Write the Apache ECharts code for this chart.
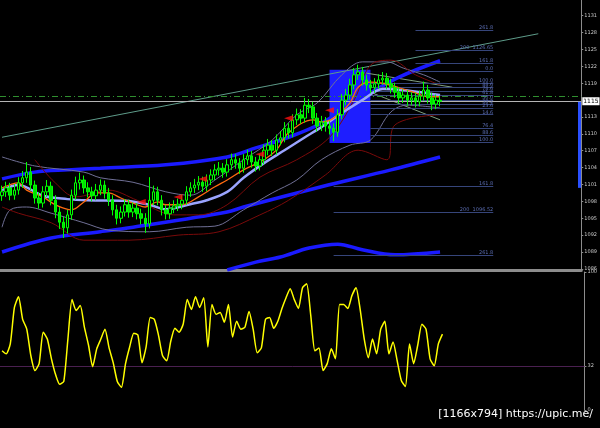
<!DOCTYPE html>
<html><head><meta charset="utf-8">
<script src="https://cdn.jsdelivr.net/npm/echarts@6/dist/echarts.min.js"></script>
<style>html,body{margin:0;padding:0;background:#000;}#c{width:600px;height:428px;}</style>
</head><body><div id="c"></div>
<script>
// ---- candles: [open, close, low, high]
const ohlc = [
[1099.0,1099.7,1098.1,1100.8],[1099.7,1100.4,1098.8,1101.5],[1100.4,1099.1,1098.2,1101.3],[1099.1,1100.0,1098.3,1101.1],
[1100.0,1101.3,1099.2,1102.3],[1101.3,1102.2,1100.4,1103.4],[1102.2,1103.2,1101.3,1105.0],[1103.2,1100.9,1100.0,1104.1],
[1100.9,1098.6,1097.6,1101.7],[1098.6,1097.7,1096.7,1099.6],[1097.7,1099.7,1096.9,1100.7],[1099.7,1100.7,1098.8,1101.8],
[1100.7,1098.2,1097.3,1101.5],[1098.2,1096.1,1095.0,1099.1],[1096.1,1094.3,1093.1,1097.0],[1094.3,1093.3,1091.5,1095.3],
[1093.3,1095.6,1092.3,1096.5],[1095.6,1099.1,1094.7,1100.1],[1099.1,1101.3,1098.3,1102.4],[1101.3,1101.8,1100.1,1103.1],
[1101.8,1100.4,1099.4,1102.6],[1100.4,1099.7,1098.7,1101.4],[1099.7,1099.0,1098.0,1100.6],[1099.0,1100.0,1098.2,1101.1],
[1100.0,1100.9,1099.1,1101.9],[1100.9,1099.5,1098.5,1101.7],[1099.5,1098.2,1097.2,1100.4],[1098.2,1096.5,1095.5,1099.1],
[1096.5,1095.0,1093.9,1097.4],[1095.0,1096.1,1094.1,1097.1],[1096.1,1097.4,1095.3,1098.4],[1097.4,1096.1,1095.1,1098.3],
[1096.1,1096.8,1095.2,1097.8],[1096.8,1095.8,1094.8,1097.7],[1095.8,1095.0,1093.9,1096.7],[1095.0,1094.0,1092.4,1095.9],
[1094.0,1098.2,1093.2,1102.3],[1098.2,1099.7,1097.3,1100.8],[1099.7,1098.2,1097.3,1100.6],[1098.2,1096.5,1095.5,1099.1],
[1096.5,1095.8,1094.8,1097.4],[1095.8,1096.8,1094.9,1097.8],[1096.8,1097.2,1095.9,1098.2],[1097.2,1097.5,1096.3,1098.5],
[1097.5,1098.2,1096.6,1099.2],[1098.2,1099.7,1097.4,1100.7],[1099.7,1100.4,1098.8,1101.4],[1100.4,1100.9,1099.5,1102.0],
[1100.9,1101.4,1100.0,1102.5],[1101.4,1100.7,1099.7,1102.4],[1100.7,1101.8,1099.8,1102.8],[1101.8,1102.7,1100.9,1103.7],
[1102.7,1103.6,1101.8,1104.6],[1103.6,1103.9,1102.6,1105.0],[1103.9,1103.2,1102.2,1104.8],[1103.2,1104.5,1102.4,1105.5],
[1104.5,1105.4,1103.6,1106.5],[1105.4,1104.8,1103.8,1106.4],[1104.8,1103.9,1102.9,1105.7],[1103.9,1105.4,1103.1,1106.4],
[1105.4,1106.1,1104.5,1107.2],[1106.1,1105.0,1104.0,1107.0],[1105.0,1104.3,1103.3,1105.9],[1104.3,1105.4,1103.5,1106.4],
[1105.4,1107.1,1104.6,1108.1],[1107.1,1108.0,1106.2,1109.1],[1108.0,1107.1,1106.1,1108.9],[1107.1,1108.9,1106.3,1109.9],
[1108.9,1109.3,1108.0,1110.5],[1109.3,1111.0,1108.5,1112.1],[1111.0,1110.2,1109.2,1111.9],[1110.2,1112.5,1109.4,1113.5],
[1112.5,1113.4,1111.6,1114.5],[1113.4,1112.8,1111.8,1114.4],[1112.8,1115.1,1112.0,1116.4],[1115.1,1114.8,1113.7,1116.2],
[1114.8,1112.8,1111.8,1115.7],[1112.8,1111.4,1110.4,1113.7],[1111.4,1112.1,1110.5,1113.2],[1112.1,1111.4,1110.4,1113.0],
[1111.4,1111.0,1109.9,1112.3],[1111.0,1110.3,1108.7,1111.9],[1110.3,1113.4,1109.5,1114.4],[1113.4,1116.0,1112.6,1117.1],
[1116.0,1116.9,1115.1,1118.0],[1116.9,1118.7,1116.1,1119.8],[1118.7,1120.5,1117.9,1121.7],[1120.5,1121.0,1119.6,1122.3],
[1121.0,1119.6,1118.6,1121.9],[1119.6,1118.7,1117.7,1120.5],[1118.7,1118.2,1117.2,1119.6],[1118.2,1118.9,1117.3,1119.9],
[1118.9,1119.6,1118.0,1120.6],[1119.6,1119.9,1118.7,1121.0],[1119.9,1118.9,1117.9,1120.8],[1118.9,1118.2,1117.2,1119.8],
[1118.2,1117.4,1116.4,1119.1],[1117.4,1116.4,1115.4,1118.3],[1116.4,1116.9,1115.5,1117.9],[1116.9,1116.0,1115.0,1117.8],
[1116.0,1116.4,1115.1,1117.4],[1116.4,1115.7,1114.7,1117.3],[1115.7,1116.7,1114.9,1117.7],[1116.7,1117.8,1115.9,1119.3],
[1117.8,1116.4,1115.4,1118.7],[1116.4,1115.3,1114.2,1117.3],[1115.3,1116.0,1114.4,1117.0],[1116.0,1115.8,1114.9,1116.8]
];
// ---- oscillator (sub window)
const osc = [42.9,40.7,47.9,74.3,82.1,65.7,58.6,39.3,28.6,33.6,
56.4,51.4,37.1,25.7,18.6,20.7,51.4,80.0,72.1,75.7,
60.0,47.1,31.4,44.3,51.4,58.6,45.0,34.3,20.7,16.4,
33.6,45.7,55.7,54.3,34.3,45.7,67.1,65.7,54.3,39.3,
35.7,50.0,59.3,56.4,62.1,80.0,72.9,82.1,74.3,81.4,
45.7,76.4,69.3,70.7,63.6,76.4,52.9,64.3,58.6,60.0,
71.4,58.6,41.4,45.0,65.7,67.1,59.3,64.3,73.6,81.4,
87.9,80.0,73.6,88.6,91.4,68.6,42.9,45.0,28.6,33.6,
44.3,37.1,76.4,76.4,73.6,82.9,88.6,72.9,51.4,37.9,
51.4,40.7,58.6,64.3,40.7,49.3,35.7,21.4,17.1,47.9,
33.6,47.1,62.1,58.6,37.1,32.1,47.9,55.0];
const oscLevel = 32;
// ---- indicator lines [barIndex, price]
const maSlow = [[0,1100.0],[4,1100.9],[10,1099.0],[16,1098.4],[21,1098.2],[30,1098.1],[36,1097.4],[40,1096.6],[46,1097.5],[50,1098.2],[55,1099.7],[59,1102.2],[64,1104.8],[69,1107.1],[74,1109.4],[78,1111.2],[83,1113.7],[88,1116.0],[93,1118.0],[98,1117.8],[103,1117.3],[107,1116.9]];
const maFast = [[0,1100.4],[4,1101.3],[6,1100.0],[10,1098.8],[13,1097.4],[17,1096.5],[20,1097.9],[23,1099.5],[26,1099.5],[29,1098.6],[32,1097.7],[35,1097.0],[38,1097.9],[40,1097.4],[44,1097.4],[48,1098.8],[52,1100.6],[55,1101.8],[59,1103.6],[64,1105.4],[67,1107.1],[70,1110.2],[76,1112.5],[78,1112.1],[81,1112.8],[85,1115.5],[87,1118.3],[90,1119.2],[93,1119.0],[97,1118.2],[101,1117.3],[104,1116.6],[107,1116.6]];
const bandUpper = [[0,1102.0],[8,1103.2],[16,1103.6],[24,1103.9],[40,1104.5],[55,1105.9],[62,1107.5],[70,1109.4],[78,1111.9],[90,1117.3],[97,1120.1],[107,1123.0]];
const bandLower = [[0,1089.0],[12,1091.5],[24,1092.6],[32,1093.4],[55,1096.1],[59,1097.0],[78,1100.6],[95,1103.6],[107,1105.9]];
const bandLowest = [[55,1085.8],[62,1087.2],[68,1088.1],[75,1089.7],[82,1090.4],[88,1089.4],[96,1088.5],[107,1089.0]];
const bbUpper = [[0,1105.9],[8,1104.3],[20,1103.2],[24,1102.2],[32,1101.4],[40,1099.7],[46,1099.1],[52,1101.8],[59,1105.4],[66,1108.9],[72,1113.4],[77,1115.5],[83,1120.5],[88,1122.8],[94,1122.8],[98,1121.7],[103,1120.5],[107,1119.2]];
const bbLower = [[0,1093.4],[2,1096.5],[6,1097.0],[12,1095.9],[20,1094.2],[26,1092.9],[36,1092.6],[45,1093.4],[52,1093.6],[59,1096.5],[66,1099.5],[72,1101.8],[78,1105.4],[85,1108.0],[90,1108.9],[95,1113.9],[99,1115.1],[107,1114.6]];
const redA = [[8,1105.4],[13,1101.3],[18,1098.8],[26,1100.0],[33,1098.2],[42,1095.6],[48,1095.6],[55,1097.4],[63,1102.3],[72,1105.4],[80,1109.4],[86,1116.0],[90,1122.2],[95,1123.1],[101,1120.5],[107,1118.7]];
const redB = [[0,1097.0],[4,1095.9],[12,1094.2],[20,1091.1],[31,1091.1],[43,1092.0],[53,1092.6],[63,1095.6],[70,1098.2],[79,1102.7],[87,1107.1],[94,1105.4],[96,1111.6],[107,1113.4]];
const trendLine = [[0,1109.4],[131,1127.8]];
const channelUp = [[89,1120.8],[110,1118.3]];
const channelDn = [[90,1117.4],[107,1112.5]];
const arrows = [[34,1097.9],[43,1098.8],[49,1102.0],[63,1106.4],[70,1112.8],[80,1114.2]];
// ---- fibonacci levels
const fibPrices = [1128.5,1124.9,1122.6,1121.2,1119.0,1118.3,1117.6,1116.9,1116.0,1115.3,1114.6,1113.4,1111.0,1109.8,1108.6,1100.7,1096.1,1088.5];
const fibLabels = ['261.8','200  1126.65','161.8','0.0','100.0','88.6','78.6','61.8','50.0','38.2','23.6','14.6','76.4','88.6','100.0','161.8','200  1096.52','261.8'];
const fibStart = [101,101,101,101,90,90,90,90,90,90,90,90,90,90,90,81,81,81];
const fibEnd = 120;
const boxRange = {x0:80, x1:90, top:1121.4, bottom:1108.4};
const bidPrice = 1115.8, askPrice = 1116.7;
const sideBar = {x:141, top:1115.7, bottom:1100.4};
const priceTicks = [1131,1128,1125,1122,1119,1113,1110,1107,1104,1101,1098,1095,1092,1089,1086];
const oscTicks = [100,32,0];

const NCAT = 142;
const cats = [];
for (let i = 0; i < NCAT; i++) cats.push(String(i));

const chart = echarts.init(document.getElementById('c'), null, {renderer:'canvas'});
function ln(data, color, width, z, smooth){
  return {type:'line', data:data, xAxisIndex:0, yAxisIndex:0, symbol:'none', showSymbol:false,
    smooth: smooth===undefined?0.35:smooth, lineStyle:{color:color, width:width}, z:z, silent:true, connectNulls:true};
}
const fibLines = fibPrices.map((p,k)=>[
  {coord:[fibStart[k], p], label:{formatter: fibLabels[k]}},
  {coord:[fibEnd, p]}
]);
const option = {
  backgroundColor:'#000',
  animation:false,
  title:{text:'[1166x794] https://upic.me/', right:2, bottom:3,
    textStyle:{color:'#ffffff', fontSize:11, fontWeight:'normal', fontFamily:'DejaVu Sans'}},
  grid:[{left:0, right:14, top:0, height:270},{left:0, right:14, top:272, height:138}],
  xAxis:[
    {type:'category', data:cats, gridIndex:0, boundaryGap:true,
      axisLine:{show:true, lineStyle:{color:'#8c8c8c', width:3}}, axisTick:{show:false}, axisLabel:{show:false}, splitLine:{show:false}},
    {type:'category', data:cats, gridIndex:1, boundaryGap:true,
      axisLine:{show:false}, axisTick:{show:false}, axisLabel:{show:false}, splitLine:{show:false}}
  ],
  yAxis:[
    {type:'value', gridIndex:0, position:'right', min:1085.8, max:1133.8, scale:true,
      axisLine:{show:true, lineStyle:{color:'#8c8c8c', width:1}},
      axisTick:{show:true, length:2, customValues:priceTicks, lineStyle:{color:'#8c8c8c'}},
      axisLabel:{show:true, customValues:priceTicks, margin:3, color:'#c8c8c8', fontSize:5, fontFamily:'DejaVu Sans', formatter:v=>String(Math.round(v))},
      splitLine:{show:false}},
    {type:'value', gridIndex:1, position:'right', min:0, max:100,
      axisLine:{show:true, lineStyle:{color:'#8c8c8c', width:1}},
      axisTick:{show:true, length:2, customValues:oscTicks, lineStyle:{color:'#8c8c8c'}},
      axisLabel:{show:true, customValues:oscTicks, margin:3, color:'#c8c8c8', fontSize:5, fontFamily:'DejaVu Sans'},
      splitLine:{show:false}}
  ],
  series:[
    {type:'line', data:[], xAxisIndex:0, yAxisIndex:0, z:1, silent:true,
      markArea:{silent:true, itemStyle:{color:'#1e1eff', opacity:1},
        data:[[{coord:[boxRange.x0, boxRange.top]},{coord:[boxRange.x1, boxRange.bottom]}]]}},
    {type:'line', data:[], xAxisIndex:0, yAxisIndex:0, z:2, silent:true,
      markLine:{silent:true, symbol:'none', animation:false,
        lineStyle:{color:'#36457a', width:1, type:'solid'},
        label:{show:true, position:'insideEndTop', distance:[0,0], color:'#5a6cb0', fontSize:5, fontFamily:'DejaVu Sans'},
        data:fibLines}},
    ln(trendLine, '#5e9c8a', 1, 3, false),
    ln(channelUp, '#7f9f7f', 1, 3, false),
    ln(channelDn, '#7f9f7f', 1, 3, false),
    ln(bandLowest, '#1a1aff', 3.5, 4),
    ln(bandLower, '#1a1aff', 3.5, 4),
    ln(bandUpper, '#1a1aff', 3.5, 4),
    ln(bbUpper, '#707096', 1, 4),
    ln(bbLower, '#707096', 1, 4),
    ln(redA, '#7a0a0a', 1, 4),
    ln(redB, '#7a0a0a', 1, 4),
    ln(maSlow, '#9aa4ff', 2.5, 5),
    ln(maFast, '#ff6a10', 1.3, 6),
    {type:'candlestick', data:ohlc, xAxisIndex:0, yAxisIndex:0, z:7, barWidth:3, silent:true,
      itemStyle:{color:'#000000', color0:'#00e000', borderColor:'#00ff00', borderColor0:'#00ff00', borderWidth:1},
      markLine:{silent:true, symbol:'none', animation:false,
        data:[
          {yAxis:askPrice, lineStyle:{color:'#2f8f2f', width:1, type:[6,3,1,3]}, label:{show:false}},
          {yAxis:bidPrice, lineStyle:{color:'#b4b4b4', width:1, type:'solid'},
            label:{show:true, position:'end', distance:1, formatter:String(Math.floor(bidPrice)), color:'#000', backgroundColor:'#ffffff', fontSize:6, padding:[1,1], fontFamily:'DejaVu Sans'}},
          [{coord:[sideBar.x, sideBar.top], lineStyle:{color:'#2a50ff', width:3, type:'solid'}, label:{show:false}},{coord:[sideBar.x, sideBar.bottom]}]
        ]}},
    {type:'scatter', data:arrows, xAxisIndex:0, yAxisIndex:0, z:8, silent:true,
      symbol:'triangle', symbolSize:[6,9], symbolRotate:90, itemStyle:{color:'#ff1010'}},
    {type:'line', data:osc, xAxisIndex:1, yAxisIndex:1, symbol:'none', showSymbol:false, smooth:0.2, z:5, silent:true,
      lineStyle:{color:'#ffff00', width:1.5},
      markLine:{silent:true, symbol:'none', animation:false, label:{show:false},
        data:[{yAxis:oscLevel, lineStyle:{color:'#4a2050', width:1, type:'solid'}}]}}
  ]
};
chart.setOption(option);
</script>
</body></html>
